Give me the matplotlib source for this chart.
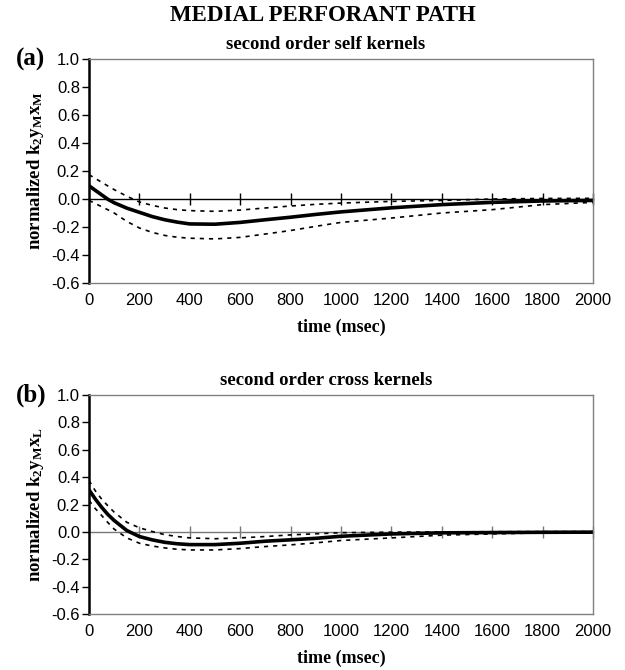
import matplotlib
matplotlib.use('Agg')
import matplotlib.pyplot as plt

plt.rcParams['font.family'] = 'Liberation Sans'
plt.rcParams['axes.unicode_minus'] = False
plt.rcParams['mathtext.fontset'] = 'custom'
plt.rcParams['mathtext.rm'] = 'Liberation Serif:bold'
plt.rcParams['mathtext.bf'] = 'Liberation Serif:bold'
plt.rcParams['mathtext.default'] = 'rm'

time_ms = [0, 25, 50, 75, 100, 150, 200, 250, 300, 350, 400, 500, 600, 700, 800, 900, 1000,
           1200, 1400, 1600, 1800, 2000]

# (a) second order self kernels
self_mean = [0.095, 0.062, 0.03, -0.002, -0.027, -0.065, -0.095, -0.125, -0.148, -0.165, -0.178,
             -0.18, -0.167, -0.148, -0.13, -0.11, -0.092, -0.063, -0.04, -0.024, -0.014, -0.01]
self_upper = [0.174, 0.147, 0.12, 0.093, 0.067, 0.02, -0.021, -0.045, -0.064, -0.076, -0.083,
              -0.088, -0.079, -0.064, -0.05, -0.038, -0.029, -0.017, -0.01, 0.0, 0.004, 0.005]
self_lower = [-0.01, -0.032, -0.055, -0.077, -0.1, -0.16, -0.207, -0.238, -0.26, -0.273, -0.28,
              -0.285, -0.274, -0.25, -0.225, -0.195, -0.167, -0.136, -0.1, -0.076, -0.04, -0.024]

# (b) second order cross kernels
cross_mean = [0.307, 0.24, 0.18, 0.127, 0.083, 0.01, -0.034, -0.058, -0.076, -0.087, -0.093,
              -0.093, -0.083, -0.068, -0.058, -0.047, -0.032, -0.015, -0.007, -0.005, -0.003, -0.002]
cross_upper = [0.375, 0.30, 0.24, 0.19, 0.144, 0.07, 0.03, 0.003, -0.02, -0.034, -0.044,
               -0.05, -0.044, -0.034, -0.022, -0.014, -0.006, -0.002, 0.0, 0.001, 0.002, 0.002]
cross_lower = [0.23, 0.17, 0.12, 0.068, 0.02, -0.044, -0.083, -0.103, -0.117, -0.127, -0.132,
               -0.132, -0.122, -0.107, -0.095, -0.08, -0.063, -0.044, -0.024, -0.015, -0.007, -0.005]

x_ticks = list(range(0, 2001, 200))
y_ticks = [-0.6, -0.4, -0.2, 0.0, 0.2, 0.4, 0.6, 0.8, 1.0]

serif = 'Liberation Serif'

fig = plt.figure(figsize=(6.25, 6.7), dpi=100)
ax_a = fig.add_axes([0.1424, 0.5776, 0.8064, 0.3343])
ax_b = fig.add_axes([0.1424, 0.0836, 0.8064, 0.3268])

panels = [
    (ax_a, self_mean, self_upper, self_lower, '(a)', 'second order self kernels',
     r'normalized k$_{2}$y$_{M}$x$_{M}$', 'black'),
    (ax_b, cross_mean, cross_upper, cross_lower, '(b)', 'second order cross kernels',
     r'normalized k$_{2}$y$_{M}$x$_{L}$', '#777777'),
]

for ax, mean, upper, lower, tag, sub, ylab, zcol in panels:
    ax.plot(time_ms, upper, color='black', lw=1.2, ls=(0, (2.5, 3)))
    ax.plot(time_ms, lower, color='black', lw=1.2, ls=(0, (2.5, 3)))
    ax.plot(time_ms, mean, color='black', lw=2.6)
    ax.set_xlim(0, 2000)
    ax.set_ylim(-0.6, 1.0)
    ax.set_xticks(x_ticks)
    ax.set_yticks(y_ticks)
    ax.set_yticklabels([f'{v:.1f}' for v in y_ticks])
    ax.tick_params(axis='x', length=0, pad=7, labelsize=12)
    ax.tick_params(axis='y', length=5, width=1, direction='out', pad=1.5, labelsize=12)
    for side in ['top', 'right', 'bottom']:
        ax.spines[side].set_color('#808080')
        ax.spines[side].set_linewidth(1)
    ax.spines['left'].set_linewidth(1.8)

    # horizontal axis crossing at zero with tick marks
    zero_ax = ax.secondary_xaxis(0, transform=ax.transData)
    zero_ax.set_xticks(x_ticks[1:])
    zero_ax.tick_params(direction='inout', length=9, width=1, color=zcol, labelbottom=False)
    zero_ax.spines['bottom'].set_color(zcol)
    zero_ax.spines['bottom'].set_linewidth(1)

    ax.set_xlabel('time (msec)', family=serif, fontweight='bold', fontsize=13, labelpad=8)
    ax.set_ylabel(ylab, family=serif, fontweight='bold', fontsize=13.5, labelpad=4)
    ax.set_title(sub, family=serif, fontweight='bold', fontsize=13.5, pad=7, x=0.47)
    ax.text(-0.146, 1.0, tag, transform=ax.transAxes, family=serif, fontweight='bold',
            fontsize=18, ha='left', va='center')

fig.text(0.516, 0.977, 'MEDIAL PERFORANT PATH', family=serif, fontweight='bold',
         fontsize=16.5, ha='center', va='center')

fig.savefig('out.png', dpi=100)
